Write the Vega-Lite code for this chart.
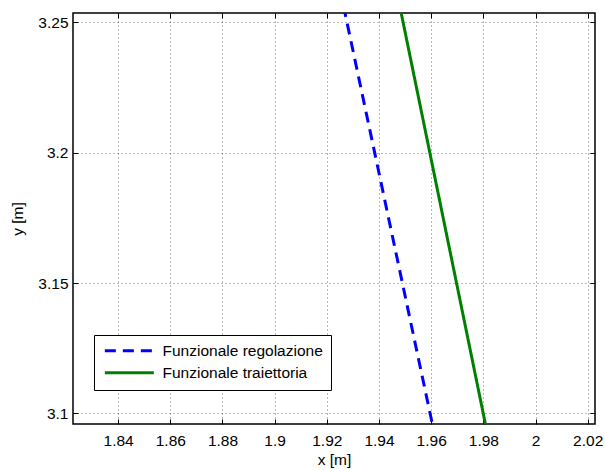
{
  "$schema": "https://vega.github.io/schema/vega-lite/v6.json",
  "autosize": {"type": "none"},
  "width": 522,
  "height": 411,
  "padding": {"left": 73, "top": 13, "right": 10, "bottom": 46},
  "background": "white",
  "config": {
    "view": {"stroke": "#000000", "strokeWidth": 1.5},
    "font": "Liberation Sans",
    "axis": {
      "domain": false,
      "grid": true,
      "gridColor": "#000000",
      "gridOpacity": 0.55,
      "gridDash": [1, 3],
      "gridWidth": 1,
      "tickColor": "#000000",
      "tickSize": -5,
      "tickWidth": 1,
      "labelFont": "Liberation Sans",
      "labelFontSize": 15.5,
      "labelColor": "#000000",
      "titleFont": "Liberation Sans",
      "titleFontSize": 15.5,
      "titleFontWeight": "normal",
      "titleColor": "#000000"
    }
  },
  "data": {
    "values": [
      {"series": "Funzionale regolazione", "x": 1.9256, "y": 3.26},
      {"series": "Funzionale regolazione", "x": 1.9617, "y": 3.09},
      {"series": "Funzionale traiettoria", "x": 1.9472, "y": 3.26},
      {"series": "Funzionale traiettoria", "x": 1.9820, "y": 3.09}
    ]
  },
  "layer": [
    {
      "mark": {"type": "line", "strokeWidth": 3, "clip": true},
      "encoding": {
        "x": {
          "field": "x",
          "type": "quantitative",
          "scale": {"domain": [1.8227, 2.0228], "nice": false, "zero": false},
          "axis": {
            "values": [1.84, 1.86, 1.88, 1.9, 1.92, 1.94, 1.96, 1.98, 2, 2.02],
            "format": "~g",
            "title": "x [m]",
            "labelPadding": 14,
            "titlePadding": 4
          }
        },
        "y": {
          "field": "y",
          "type": "quantitative",
          "scale": {"domain": [3.0959, 3.2536], "nice": false, "zero": false},
          "axis": {
            "values": [3.1, 3.15, 3.2, 3.25],
            "format": "~g",
            "title": "y [m]",
            "labelPadding": 10,
            "titlePadding": 12
          }
        },
        "order": {"field": "y", "type": "quantitative"},
        "color": {
          "field": "series",
          "type": "nominal",
          "scale": {"domain": ["Funzionale regolazione", "Funzionale traiettoria"], "range": ["#0000FF", "#008000"]},
          "legend": {
            "title": null,
            "orient": "none",
            "legendX": 21,
            "legendY": 322,
            "fillColor": "#FFFFFF",
            "strokeColor": "#000000",
            "padding": 8,
            "symbolType": "M-1,0H9",
            "symbolSize": 96,
            "symbolStrokeWidth": 3,
            "symbolFillColor": "transparent",
            "labelFontSize": 15.5,
            "labelFont": "Liberation Sans",
            "labelColor": "#000000",
            "labelOffset": 45,
            "rowPadding": 5,
            "labelLimit": 300
          }
        },
        "strokeDash": {
          "field": "series",
          "type": "nominal",
          "scale": {"domain": ["Funzionale regolazione", "Funzionale traiettoria"], "range": [[11, 7], [1, 0]]},
          "legend": null
        }
      }
    },
    {
      "mark": {"type": "point", "opacity": 0},
      "encoding": {
        "x": {
          "field": "x",
          "type": "quantitative",
          "scale": {"domain": [1.8227, 2.0228], "nice": false, "zero": false},
          "axis": {
            "orient": "top",
            "values": [1.84, 1.86, 1.88, 1.9, 1.92, 1.94, 1.96, 1.98, 2, 2.02],
            "labels": false,
            "grid": false,
            "title": null
          }
        },
        "y": {
          "field": "y",
          "type": "quantitative",
          "scale": {"domain": [3.0959, 3.2536], "nice": false, "zero": false},
          "axis": {
            "orient": "right",
            "values": [3.1, 3.15, 3.2, 3.25],
            "labels": false,
            "grid": false,
            "title": null
          }
        }
      }
    }
  ],
  "resolve": {"axis": {"x": "independent", "y": "independent"}}
}
